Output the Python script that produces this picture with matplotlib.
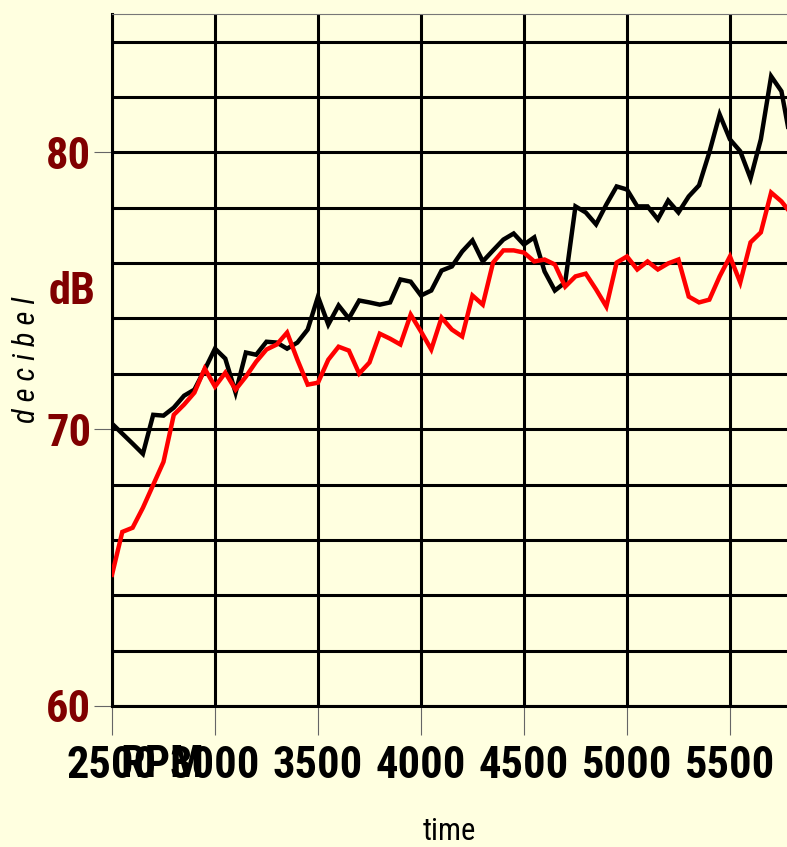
import matplotlib

matplotlib.use("Agg")
import matplotlib.pyplot as plt
from matplotlib import font_manager
from matplotlib.ticker import MultipleLocator

BG = "#FFFFE0"
DARK_RED = "#800000"

rpm = list(range(2500, 5850, 50))
black_db = [
    70.20, 69.84, 69.48, 69.11, 70.52, 70.49, 70.78, 71.21, 71.43, 72.15,
    72.91, 72.55, 71.32, 72.77, 72.69, 73.16, 73.13, 72.91, 73.13, 73.60,
    74.79, 73.78, 74.47, 74.00, 74.65, 74.58, 74.50, 74.58, 75.41, 75.33,
    74.83, 75.01, 75.73, 75.88, 76.42, 76.82, 76.06, 76.46, 76.85, 77.07,
    76.67, 76.93, 75.70, 75.01, 75.30, 78.05, 77.83, 77.40, 78.12, 78.77,
    78.66, 78.05, 78.05, 77.58, 78.26, 77.83, 78.41, 78.81, 80.00, 81.37,
    80.47, 80.04, 79.06, 80.47, 82.75, 82.21, 80.20,
]
red_db = [
    64.74, 66.29, 66.44, 67.16, 67.99, 68.82, 70.52, 70.89, 71.32, 72.19,
    71.54, 72.04, 71.43, 71.90, 72.44, 72.88, 73.06, 73.49, 72.51, 71.61,
    71.68, 72.51, 72.98, 72.84, 72.01, 72.41, 73.45, 73.27, 73.06, 74.14,
    73.53, 72.88, 74.03, 73.60, 73.35, 74.83, 74.50, 76.02, 76.46, 76.46,
    76.38, 76.06, 76.13, 75.95, 75.15, 75.52, 75.62, 75.05, 74.43, 76.02,
    76.24, 75.77, 76.06, 75.77, 75.99, 76.13, 74.79, 74.58, 74.68, 75.52,
    76.24, 75.30, 76.75, 77.11, 78.55, 78.23, 77.76,
]
x_ticks = [2500, 3000, 3500, 4000, 4500, 5000, 5500]
y_ticks = [60, 70, 80]

# pick a narrow face if one is around
names = {f.name for f in font_manager.fontManager.ttflist}
NARROW = "Liberation Sans"
for cand in ["Liberation Sans Narrow", "Arial Narrow", "Roboto Condensed",
             "Open Sans Condensed", "Noto Sans Condensed"]:
    if cand in names:
        NARROW = cand
        break

fig = plt.figure(figsize=(7.87, 8.47), dpi=100, facecolor=BG)
ax = fig.add_axes([112 / 787, 141 / 847, 675 / 787, 692 / 847])
ax.set_facecolor(BG)

ax.plot(rpm, black_db, color="black", linewidth=3.2, solid_joinstyle="miter", zorder=3)
ax.plot(rpm, red_db, color="#FF0000", linewidth=3.2, solid_joinstyle="miter", zorder=4)

ax.set_xlim(2500, 5777)
ax.set_ylim(60, 85)
ax.set_xticks(x_ticks)
ax.set_yticks(y_ticks)
ax.yaxis.set_minor_locator(MultipleLocator(2))

ax.set_axisbelow(True)
ax.grid(which="major", axis="x", color="black", linewidth=2.2)
ax.grid(which="both", axis="y", color="black", linewidth=2.2)

for side in ["left", "bottom"]:
    ax.spines[side].set_color("black")
    ax.spines[side].set_linewidth(2.2)
ax.spines["top"].set_color("#777777")
ax.spines["top"].set_linewidth(0.8)
ax.spines["right"].set_visible(False)

ax.tick_params(axis="x", which="major", length=21, width=0.8, color="#666666", pad=7)
ax.tick_params(axis="y", which="major", length=13, width=0.8, color="#666666", pad=2)
ax.tick_params(axis="y", which="minor", length=0)

for lab in ax.get_xticklabels():
    lab.set_fontfamily(NARROW)
    lab.set_fontweight("bold")
    lab.set_fontsize(32)
    lab.set_color("black")
for lab in ax.get_yticklabels():
    lab.set_fontfamily(NARROW)
    lab.set_fontweight("bold")
    lab.set_fontsize(32)
    lab.set_color(DARK_RED)

ax.set_xlabel("time", family=NARROW, fontsize=22, va="center")
ax.xaxis.set_label_coords(0.5, -0.182)
ax.set_ylabel("d e c i b e l", family=NARROW, fontsize=22, style="italic", va="center")
ax.yaxis.set_label_coords(-0.126, 0.5)

# extra axis captions sit where the original put them (RPM overlaps 2500 there too)
ax.text(-0.059, 0.598, "dB", transform=ax.transAxes, ha="center", va="center",
        family=NARROW, fontweight="bold", fontsize=32, color=DARK_RED)
ax.text(0.074, -0.085, "RPM", transform=ax.transAxes, ha="center", va="center",
        family=NARROW, fontweight="bold", fontsize=32, color="black")

fig.savefig("out.png", dpi=100, facecolor=BG)
